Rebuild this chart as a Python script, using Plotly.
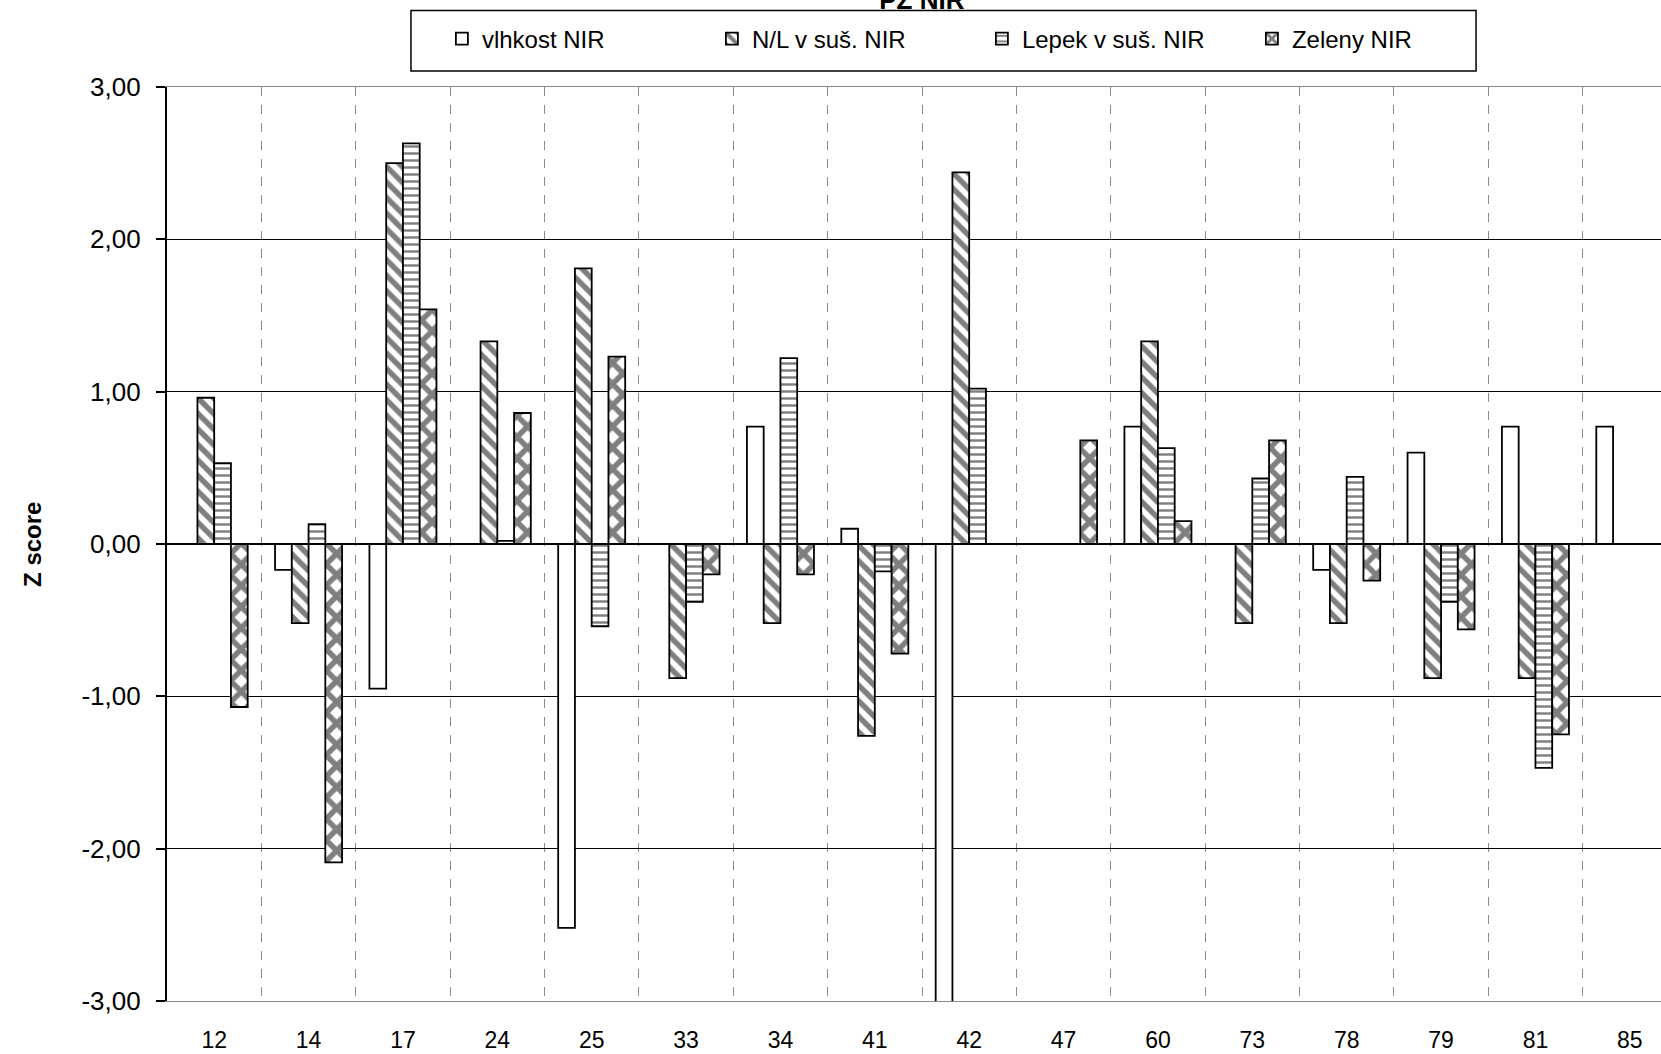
import numpy as np
import plotly.graph_objects as go

categories = ["12", "14", "17", "24", "25", "33", "34", "41", "42", "47", "60", "73", "78", "79", "81", "85"]
vlhkost = [None, -0.17, -0.95, None, -2.52, None, 0.77, 0.10, -4.00, None, 0.77, None, -0.17, 0.60, 0.77, 0.77]
nl_sus = [0.96, -0.52, 2.50, 1.33, 1.81, -0.88, -0.52, -1.26, 2.44, None, 1.33, -0.52, -0.52, -0.88, -0.88, None]
lepek_sus = [0.53, 0.13, 2.63, 0.02, -0.54, -0.38, 1.22, -0.18, 1.02, None, 0.63, 0.43, 0.44, -0.38, -1.47, None]
zeleny = [-1.07, -2.09, 1.54, 0.86, 1.23, -0.20, -0.20, -0.72, None, 0.68, 0.15, 0.68, -0.24, -0.56, -1.25, None]

series_names = ["vlhkost NIR", "N/L v suš. NIR", "Lepek v suš. NIR", "Zeleny NIR"]
ytick_vals = [3, 2, 1, 0, -1, -2, -3]
ytick_text = ["3,00", "2,00", "1,00", "0,00", "-1,00", "-2,00", "-3,00"]

FONT = "Liberation Sans, Arial, sans-serif"
line = dict(color="black", width=1.8)

patterns = [
    None,
    dict(shape="\\", fgcolor="black", bgcolor="white", size=11, solidity=0.5),
    dict(shape="-", fgcolor="black", bgcolor="white", size=7, solidity=0.35),
    dict(shape="x", fgcolor="black", bgcolor="white", size=15, solidity=0.6),
]
data = [vlhkost, nl_sus, lepek_sus, zeleny]

fig = go.Figure()
for name, vals, pat in zip(series_names, data, patterns):
    marker = dict(color="white", line=line)
    if pat is not None:
        marker["pattern"] = pat
    fig.add_trace(go.Bar(x=categories, y=vals, name=name, marker=marker))

n = len(categories)
xrange = [-0.5, n - 0.5 - 16 / 94.4]
boundaries = list(np.arange(n + 1) - 0.5)

fig.update_layout(
    width=1661, height=1054,
    margin=dict(l=167, r=0, t=87, b=53),
    paper_bgcolor="white", plot_bgcolor="white",
    font=dict(family=FONT, color="black"),
    barmode="group", bargap=0.29, bargroupgap=0,
    title=dict(text="<b>PZ NIR</b>", font=dict(size=26, family=FONT, color="black"),
               x=0.555, xref="container", xanchor="center",
               y=1.0, yref="container", yanchor="middle"),
    legend=dict(orientation="h", x=0.184, xanchor="left", y=1.0525, yanchor="middle",
                borderwidth=0, bgcolor="rgba(0,0,0,0)",
                font=dict(size=24, family=FONT), entrywidth=225),
    shapes=[dict(type="rect", xref="paper", yref="paper",
                 x0=0.1633, x1=0.8762, y0=1.0175, y1=1.0836,
                 line=dict(color="black", width=1.5), fillcolor="rgba(0,0,0,0)",
                 layer="below")],
    xaxis=dict(type="category", range=xrange, tickson="boundaries",
               showgrid=True, gridcolor="#8a8a8a", griddash="dash", gridwidth=1.3,
               showline=True, linecolor="#8a8a8a", linewidth=1.3, mirror=True,
               ticks="", tickfont=dict(size=23, family=FONT), ticklabelstandoff=18,
               zeroline=False),
    xaxis2=dict(overlaying="x", anchor="free", position=0.5, type="linear",
                range=xrange, tickmode="array", tickvals=boundaries,
                ticks="outside", ticklen=6, tickwidth=1.5, tickcolor="black",
                showticklabels=False, showgrid=False, zeroline=False, showline=False),
    yaxis=dict(range=[-3, 3], tickmode="array", tickvals=ytick_vals, ticktext=ytick_text,
               showgrid=True, gridcolor="black", gridwidth=1.2,
               zeroline=True, zerolinecolor="black", zerolinewidth=1.5,
               showline=True, linecolor="black", linewidth=2.2,
               ticks="outside", ticklen=9, tickwidth=1.5, tickcolor="black",
               tickfont=dict(size=26, family=FONT), ticklabelstandoff=10),
    annotations=[dict(text="<b>Z score</b>", xref="paper", yref="paper",
                      x=-0.0904, y=0.5, xanchor="center", yanchor="middle",
                      textangle=-90, showarrow=False,
                      font=dict(size=24, family=FONT, color="black"))],
)

fig.write_html("out.html", config={"displayModeBar": False},
               post_script="document.body.style.margin='0';document.body.style.overflow='hidden';")
